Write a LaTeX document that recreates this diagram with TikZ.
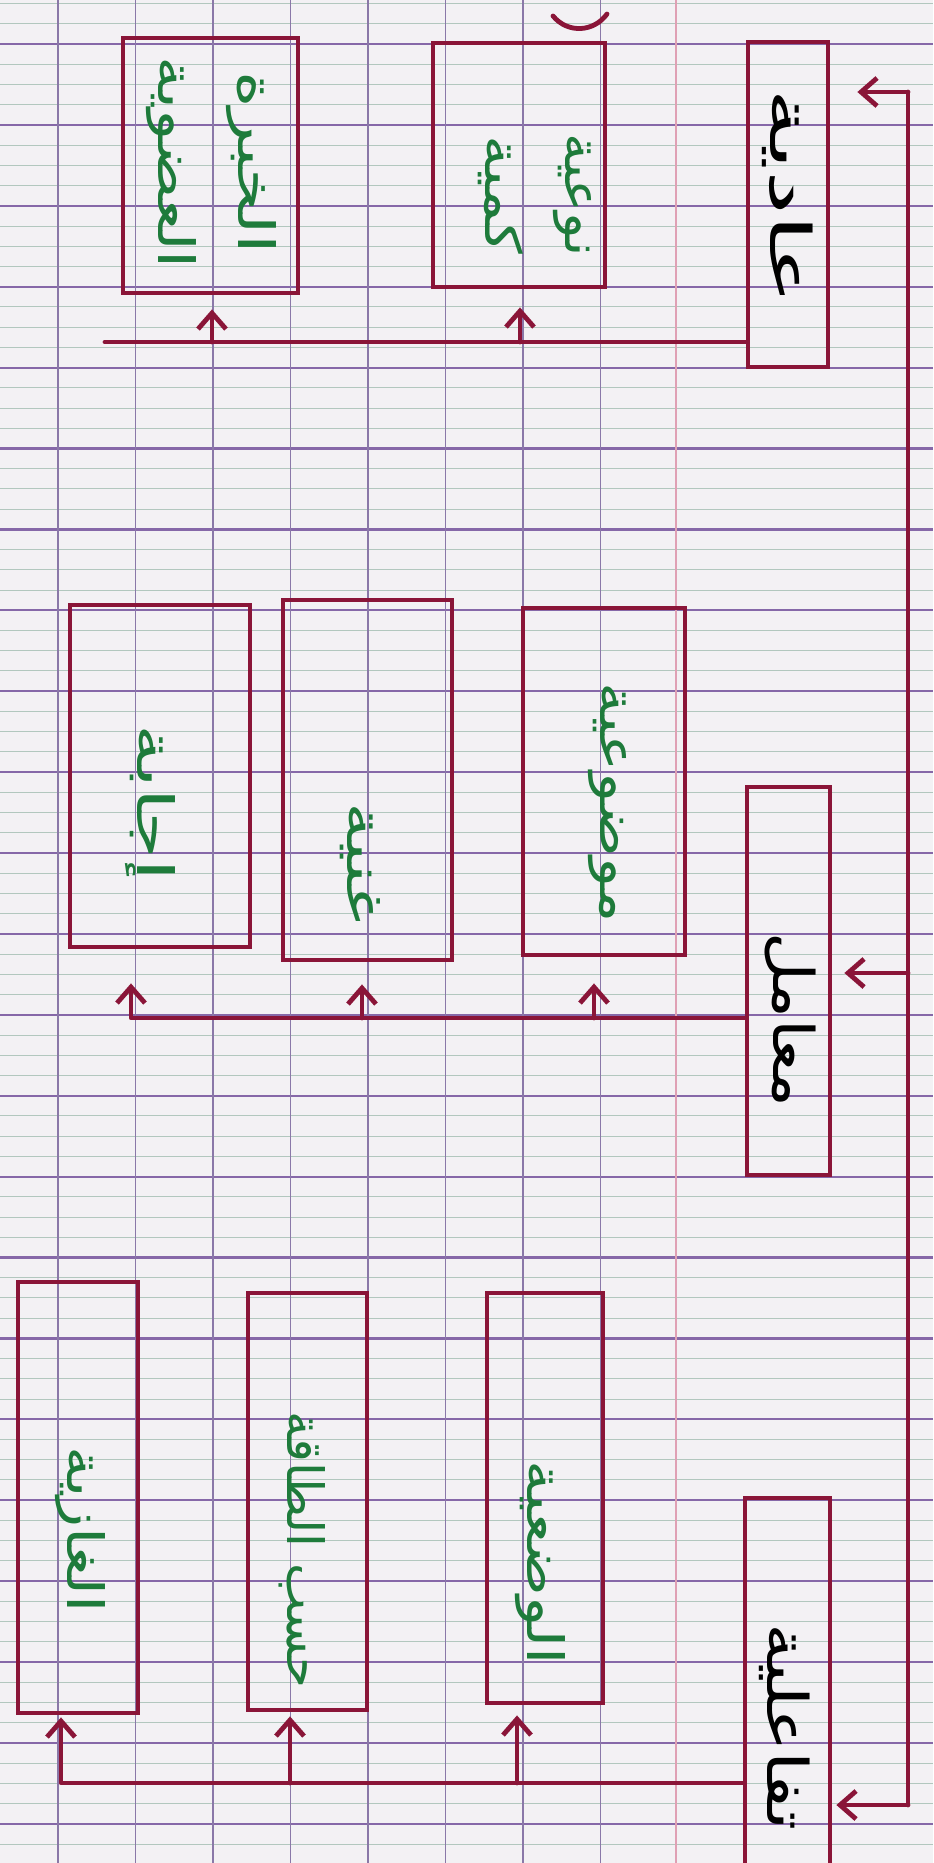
\documentclass[tikz,border=0pt]{standalone}
\usepackage{fontspec}
\newfontfamily\arabicfont[Script=Arabic]{DejaVu Sans}
\TeXXeTstate=1
\usetikzlibrary{arrows.meta}
\definecolor{ink}{HTML}{8A1538}
\definecolor{tgreen}{HTML}{1E7B3B}
\definecolor{paper}{HTML}{F3F1F4}
\definecolor{majorline}{HTML}{8668A8}
\definecolor{minorline}{HTML}{B2C7BE}
\definecolor{vline}{HTML}{8A78A8}
\definecolor{margin}{HTML}{DFA0B4}
\newcommand{\stretchR}[2]{\scalebox{#1}[1]{\beginR #2\endR}}
\tikzset{
  mainbox/.style={draw=ink, line width=2.4pt, inner sep=0pt},
  subbox/.style={draw=ink, line width=2.4pt, inner sep=0pt},
  conn/.style={draw=ink, line width=2.4pt, line cap=round, line join=round},
  arr/.style={conn, -{Straight Barb[length=8pt,width=14pt]}},
  mainlbl/.style={rotate=-90, font=\arabicfont\fontsize{28}{34}\selectfont, text=black, inner sep=0pt},
  sublbl/.style={rotate=-90, font=\arabicfont\fontsize{25}{40}\selectfont, text=tgreen, align=center, inner sep=0pt},
  majorrule/.style={draw=majorline, line width=1.1pt},
  minorrule/.style={draw=minorline, line width=0.5pt},
  vrule/.style={draw=vline, line width=0.7pt},
}
\begin{document}
\begin{tikzpicture}[x=0.5pt,y=-0.5pt]
\useasboundingbox (0,0) rectangle (933,1863);
\clip (0,0) rectangle (933,1863);
\fill[paper] (0,0) rectangle (933,1863);
% ruled paper
\foreach \k in {-1,...,22}{
  \pgfmathsetmacro\yy{44+80.9*\k}
  \foreach \m in {1,2,3}{
    \draw[minorrule] (0,{\yy+20.225*\m}) -- (933,{\yy+20.225*\m});
  }
  \draw[majorrule] (0,\yy) -- (933,\yy);
}
\foreach \k in {0,...,7}{
  \draw[vrule] ({58+77.5*\k},0) -- ({58+77.5*\k},1863);
}
\draw[draw=margin, line width=0.8pt] (676,0) -- (676,1863);

% main boxes
\node[mainbox, minimum width=40pt, minimum height=162.5pt] (aadiya) at (788,204.5) {};
\node[mainbox, minimum width=41.5pt, minimum height=194pt] (moamel) at (788.5,981) {};
\node[mainbox, minimum width=42.5pt, minimum height=229pt] (tafa) at (787.5,1727) {};
\node[mainlbl] (taadiya) at (788,197) {\stretchR{1.8}{عادية}};
\node[mainlbl] (tmoamel) at (790,1020) {\stretchR{1.2}{معامل}};
\node[mainlbl] (ttafa) at (785,1727) {\stretchR{1.3}{تفاعلية}};

% sub boxes
\node[subbox, minimum width=87.5pt, minimum height=127.5pt] (A) at (210.5,165.5) {};
\node[subbox, minimum width=86pt, minimum height=122pt] (B) at (519,165) {};
\node[subbox, minimum width=90pt, minimum height=171pt] (C) at (160,776) {};
\node[subbox, minimum width=84.5pt, minimum height=180pt] (D) at (367.5,780) {};
\node[subbox, minimum width=81pt, minimum height=173.5pt] (E) at (604,781.5) {};
\node[subbox, minimum width=60pt, minimum height=215.5pt] (F) at (78,1497.5) {};
\node[subbox, minimum width=59.5pt, minimum height=208.5pt] (G) at (307.5,1501.5) {};
\node[subbox, minimum width=58pt, minimum height=205pt] (H) at (545,1498) {};

\node[sublbl] (tA) at (211,163) {\stretchR{1.4}{الخبرة}\\\stretchR{1.3}{العضوية}};
\node[sublbl] (tB) at (535,195) {\stretchR{1.1}{نوعية}\\\stretchR{1.25}{كمية}};
\node[sublbl] (tC) at (150,803) {\stretchR{1.55}{إجابة}};
\node[sublbl] (tD) at (360,863) {\stretchR{1.45}{غنية}};
\node[sublbl] (tE) at (607,803) {\stretchR{1.25}{موضوعية}};
\node[sublbl] (tF) at (80,1530) {\stretchR{1.25}{الغازية}};
\node[sublbl] (tG) at (302,1550) {\beginR حسب الطاقة\endR};
\node[sublbl] (tH) at (540,1563) {\stretchR{1.25}{الوضعية}};

% trunk on the right
\coordinate (tTop) at (908,92);
\coordinate (tMid) at (908,973);
\coordinate (tBot) at (908,1805);
\draw[conn] (tTop) -- (tBot);
\draw[arr, shorten >=13.5pt] (tTop) -- (aadiya.east |- tTop);
\draw[arr, shorten >=6pt] (tMid) -- (moamel.east |- tMid);
\draw[arr, shorten >=2pt] (tBot) -- (tafa.east |- tBot);

% branch of aadiya
\coordinate (aL) at (105,342);
\coordinate (aJ1) at (212,342);
\coordinate (aJ2) at (520,342);
\draw[conn] (aadiya.west |- aL) -- (aL);
\draw[arr, shorten >=7pt] (aJ1) -- (A.south -| aJ1);
\draw[arr, shorten >=9pt] (aJ2) -- (B.south -| aJ2);

% branch of moamel
\coordinate (mL) at (131,1018);
\coordinate (mJ2) at (362,1018);
\coordinate (mJ3) at (594,1018);
\draw[arr, shorten >=17pt] (moamel.west |- mL) -- (mL) -- (C.south -| mL);
\draw[arr, shorten >=11pt] (mJ2) -- (D.south -| mJ2);
\draw[arr, shorten >=13pt] (mJ3) -- (E.south -| mJ3);

% branch of tafa
\coordinate (fL) at (61,1783);
\coordinate (fJ2) at (290,1783);
\coordinate (fJ3) at (517,1783);
\draw[arr, shorten >=1pt] (tafa.west |- fL) -- (fL) -- (F.south -| fL);
\draw[arr, shorten >=2pt] (fJ2) -- (G.south -| fJ2);
\draw[arr, shorten >=5pt] (fJ3) -- (H.south -| fJ3);

% stray arc at the top edge
\draw[conn] (553,16) .. controls (568,34) and (594,32) .. (607,14);
\end{tikzpicture}
\end{document}
